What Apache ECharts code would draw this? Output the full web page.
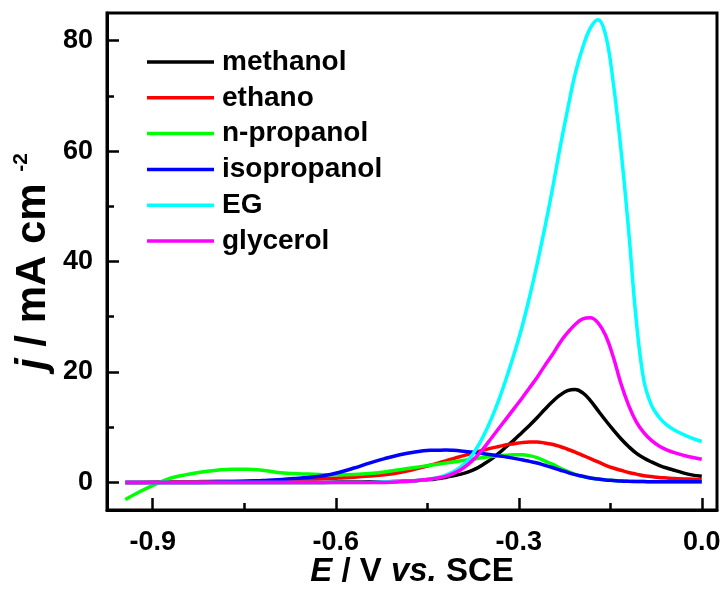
<!DOCTYPE html>
<html>
<head>
<meta charset="utf-8">
<script src="https://cdn.jsdelivr.net/npm/echarts@6/dist/echarts.min.js"></script>
<style>
  html, body { margin: 0; padding: 0; background: #fff; }
  #chart { width: 722px; height: 590px; }
</style>
</head>
<body>
<div id="chart"></div>
<script>
// potential grid (V vs. SCE): 0.025 V steps, then 0.0125 V across the peaks
var potentials = [
  -0.945, -0.920, -0.895, -0.870, -0.845, -0.820, -0.795, -0.770, -0.745, -0.720,
  -0.695, -0.670, -0.645, -0.620, -0.595, -0.570, -0.545, -0.520, -0.495, -0.470,
  -0.445, -0.4325, -0.420, -0.4075, -0.395, -0.3825, -0.370, -0.3575, -0.345, -0.3325,
  -0.320, -0.3075, -0.295, -0.2825, -0.270, -0.2575, -0.245, -0.2325, -0.220, -0.2075,
  -0.195, -0.1825, -0.170, -0.1575, -0.145, -0.1325, -0.120, -0.1075, -0.095, -0.0825,
  -0.070, -0.0575, -0.045, -0.0225, 0.000
];

// current density, mA cm-2
var methanol = [
  0, 0, 0, 0, 0, 0, 0, 0, 0, 0,
  0, 0, 0, 0, 0.05, 0.05, 0.1, 0.1, 0.2, 0.3,
  0.5, 0.7, 0.9, 1.2, 1.5, 1.9, 2.5, 3.3, 4.2, 5.3,
  6.5, 7.7, 9.0, 10.3, 11.7, 13.2, 14.6, 15.8, 16.6, 16.8,
  16.2, 14.8, 13.0, 11.2, 9.5, 7.9, 6.5, 5.3, 4.4, 3.7,
  3.1, 2.6, 2.2, 1.5, 1.1
];
var ethano = [
  0, 0, 0.05, 0.1, 0.1, 0.15, 0.2, 0.2, 0.25, 0.3,
  0.35, 0.45, 0.55, 0.65, 0.8, 0.95, 1.15, 1.4, 1.8, 2.4,
  3.1, 3.5, 3.9, 4.3, 4.7, 5.1, 5.5, 5.85, 6.2, 6.5,
  6.8, 7.0, 7.2, 7.3, 7.3, 7.15, 6.9, 6.5, 6.0, 5.5,
  4.9, 4.3, 3.7, 3.1, 2.6, 2.2, 1.8, 1.5, 1.2, 1.05,
  0.9, 0.8, 0.7, 0.6, 0.5
];
var nPropanol = [
  -3.1, -1.6, -0.3, 0.8, 1.4, 1.9, 2.2, 2.4, 2.4, 2.2,
  1.8, 1.6, 1.5, 1.4, 1.4, 1.45, 1.6, 1.9, 2.3, 2.7,
  3.1, 3.3, 3.5, 3.7, 3.9, 4.1, 4.3, 4.5, 4.7, 4.8,
  4.9, 5.0, 5.0, 4.85, 4.5, 3.9, 3.3, 2.6, 2.0, 1.45,
  1.05, 0.8, 0.6, 0.45, 0.35, 0.25, 0.2, 0.18, 0.15, 0.12,
  0.1, 0.1, 0.1, 0.1, 0.1
];
var isopropanol = [
  0, 0, 0, 0, 0, 0, 0.05, 0.1, 0.2, 0.35,
  0.5, 0.7, 0.9, 1.2, 1.8, 2.6, 3.5, 4.3, 5.0, 5.5,
  5.8, 5.83, 5.85, 5.8, 5.7, 5.55, 5.4, 5.2, 5.0, 4.8,
  4.6, 4.35, 4.1, 3.8, 3.5, 3.1, 2.7, 2.25, 1.8, 1.4,
  1.1, 0.8, 0.6, 0.45, 0.35, 0.25, 0.2, 0.17, 0.15, 0.12,
  0.1, 0.1, 0.1, 0.1, 0.1
];
var eg = [
  0, 0, 0, 0, 0, 0, 0, 0, 0, 0,
  0, 0, 0, 0, 0, 0, 0, 0.1, 0.2, 0.3,
  0.6, 0.9, 1.3, 1.9, 2.8, 4.1, 6.0, 8.5, 11.5, 15.0,
  19.0, 23.3, 28.0, 33.5, 39.5, 46.0, 53.0, 60.5, 67.5, 74.0,
  78.8, 82.3, 83.8, 81.0, 72.3, 60.3, 45.8, 29.5, 18.5, 14.0,
  11.8, 10.4, 9.5, 8.3, 7.4
];
var glycerol = [
  0, 0, 0, 0, 0, 0, 0, 0, 0, 0,
  0, 0, 0, 0, 0, 0, 0, 0, 0.1, 0.3,
  0.6, 0.8, 1.1, 1.6, 2.3, 3.3, 4.6, 6.2, 8.0, 9.8,
  11.6, 13.4, 15.2, 17.1, 19.0, 21.1, 23.1, 25.3, 27.1, 28.6,
  29.6, 29.8, 28.9, 26.6, 22.7, 17.9, 14.0, 11.0, 9.0, 7.6,
  6.6, 5.9, 5.4, 4.7, 4.2
];

var seriesNames = ['methanol', 'ethano', 'n-propanol', 'isopropanol', 'EG', 'glycerol'];
var seriesValues = [methanol, ethano, nPropanol, isopropanol, eg, glycerol];
var seriesColors = ['#000000', '#ff0000', '#00ff00', '#0000ff', '#00ffff', '#ff00ff'];

var xMajor = [-0.9, -0.6, -0.3, 0.0];
var xMinor = [-0.75, -0.45, -0.15];
var yMajor = [0, 20, 40, 60, 80];
var yMinor = [10, 30, 50, 70];

var FONT = '"Liberation Sans", Arial, sans-serif';

function pairs(vals) {
  return potentials.map(function (e, i) { return [e, vals[i]]; });
}

var series = seriesNames.map(function (name, i) {
  return {
    name: name,
    type: 'line',
    data: pairs(seriesValues[i]),
    symbol: 'none',
    showSymbol: false,
    smooth: 0.4,
    color: seriesColors[i],
    lineStyle: { width: 3.5, color: seriesColors[i] },
    xAxisIndex: 0,
    yAxisIndex: 0
  };
});

var xRange = { min: -0.975, max: 0.025 };
var yRange = { min: -5, max: 85 };

var option = {
  animation: false,
  backgroundColor: '#fff',
  grid: {
    left: 107, right: 5, top: 13, bottom: 80,
    show: true, borderColor: '#000', borderWidth: 3,
    containLabel: false, outerBoundsMode: 'none'
  },
  legend: {
    orient: 'vertical',
    left: 142, top: 43,
    icon: 'rect',
    itemWidth: 67, itemHeight: 3.5, itemGap: 7.8,
    selectedMode: false,
    data: seriesNames,
    textStyle: { fontFamily: FONT, fontWeight: 'bold', fontSize: 28, lineHeight: 28, color: '#000', padding: [0, 0, 0, 3] }
  },
  xAxis: [
    {
      type: 'value', position: 'bottom', min: xRange.min, max: xRange.max,
      axisLine: { show: true, onZero: false, lineStyle: { color: '#000', width: 3 } },
      axisTick: { show: true, inside: true, length: 12, customValues: xMajor, lineStyle: { color: '#000', width: 2.5 } },
      axisLabel: {
        show: true, customValues: xMajor, margin: 19,
        fontFamily: FONT, fontWeight: 'bold', fontSize: 27, color: '#000',
        formatter: function (v) { return v.toFixed(1); }
      },
      splitLine: { show: false },
      name: '{it|E} / V {it|vs.} SCE',
      nameLocation: 'middle', nameGap: 45, nameMoveOverlap: false,
      nameTextStyle: {
        fontFamily: FONT, fontWeight: 'bold', fontSize: 33, color: '#000',
        rich: { it: { fontFamily: FONT, fontWeight: 'bold', fontStyle: 'italic', fontSize: 33, color: '#000' } }
      }
    },
    {
      type: 'value', position: 'bottom', min: xRange.min, max: xRange.max,
      axisLine: { show: false, onZero: false },
      axisTick: { show: true, inside: true, length: 7, customValues: xMinor, lineStyle: { color: '#000', width: 2.5 } },
      axisLabel: { show: false },
      splitLine: { show: false }
    }
  ],
  yAxis: [
    {
      type: 'value', position: 'left', min: yRange.min, max: yRange.max,
      axisLine: { show: true, onZero: false, lineStyle: { color: '#000', width: 3 } },
      axisTick: { show: true, inside: true, length: 12, customValues: yMajor, lineStyle: { color: '#000', width: 2.5 } },
      axisLabel: {
        show: true, customValues: yMajor, margin: 14,
        fontFamily: FONT, fontWeight: 'bold', fontSize: 27, color: '#000'
      },
      splitLine: { show: false },
      name: '{it|j} / mA cm {sup|-2}',
      nameLocation: 'middle', nameGap: 52, nameMoveOverlap: false,
      nameTextStyle: {
        fontFamily: FONT, fontWeight: 'bold', fontSize: 42, color: '#000', lineHeight: 44,
        rich: {
          it: { fontFamily: FONT, fontWeight: 'bold', fontStyle: 'italic', fontSize: 42, color: '#000', lineHeight: 44 },
          sup: { fontFamily: FONT, fontWeight: 'bold', fontSize: 21, color: '#000', verticalAlign: 'top', lineHeight: 44 }
        }
      }
    },
    {
      type: 'value', position: 'left', min: yRange.min, max: yRange.max,
      axisLine: { show: false, onZero: false },
      axisTick: { show: true, inside: true, length: 7, customValues: yMinor, lineStyle: { color: '#000', width: 2.5 } },
      axisLabel: { show: false },
      splitLine: { show: false }
    }
  ],
  series: series
};

var myChart = echarts.init(document.getElementById('chart'));
myChart.setOption(option, true);
</script>
</body>
</html>
